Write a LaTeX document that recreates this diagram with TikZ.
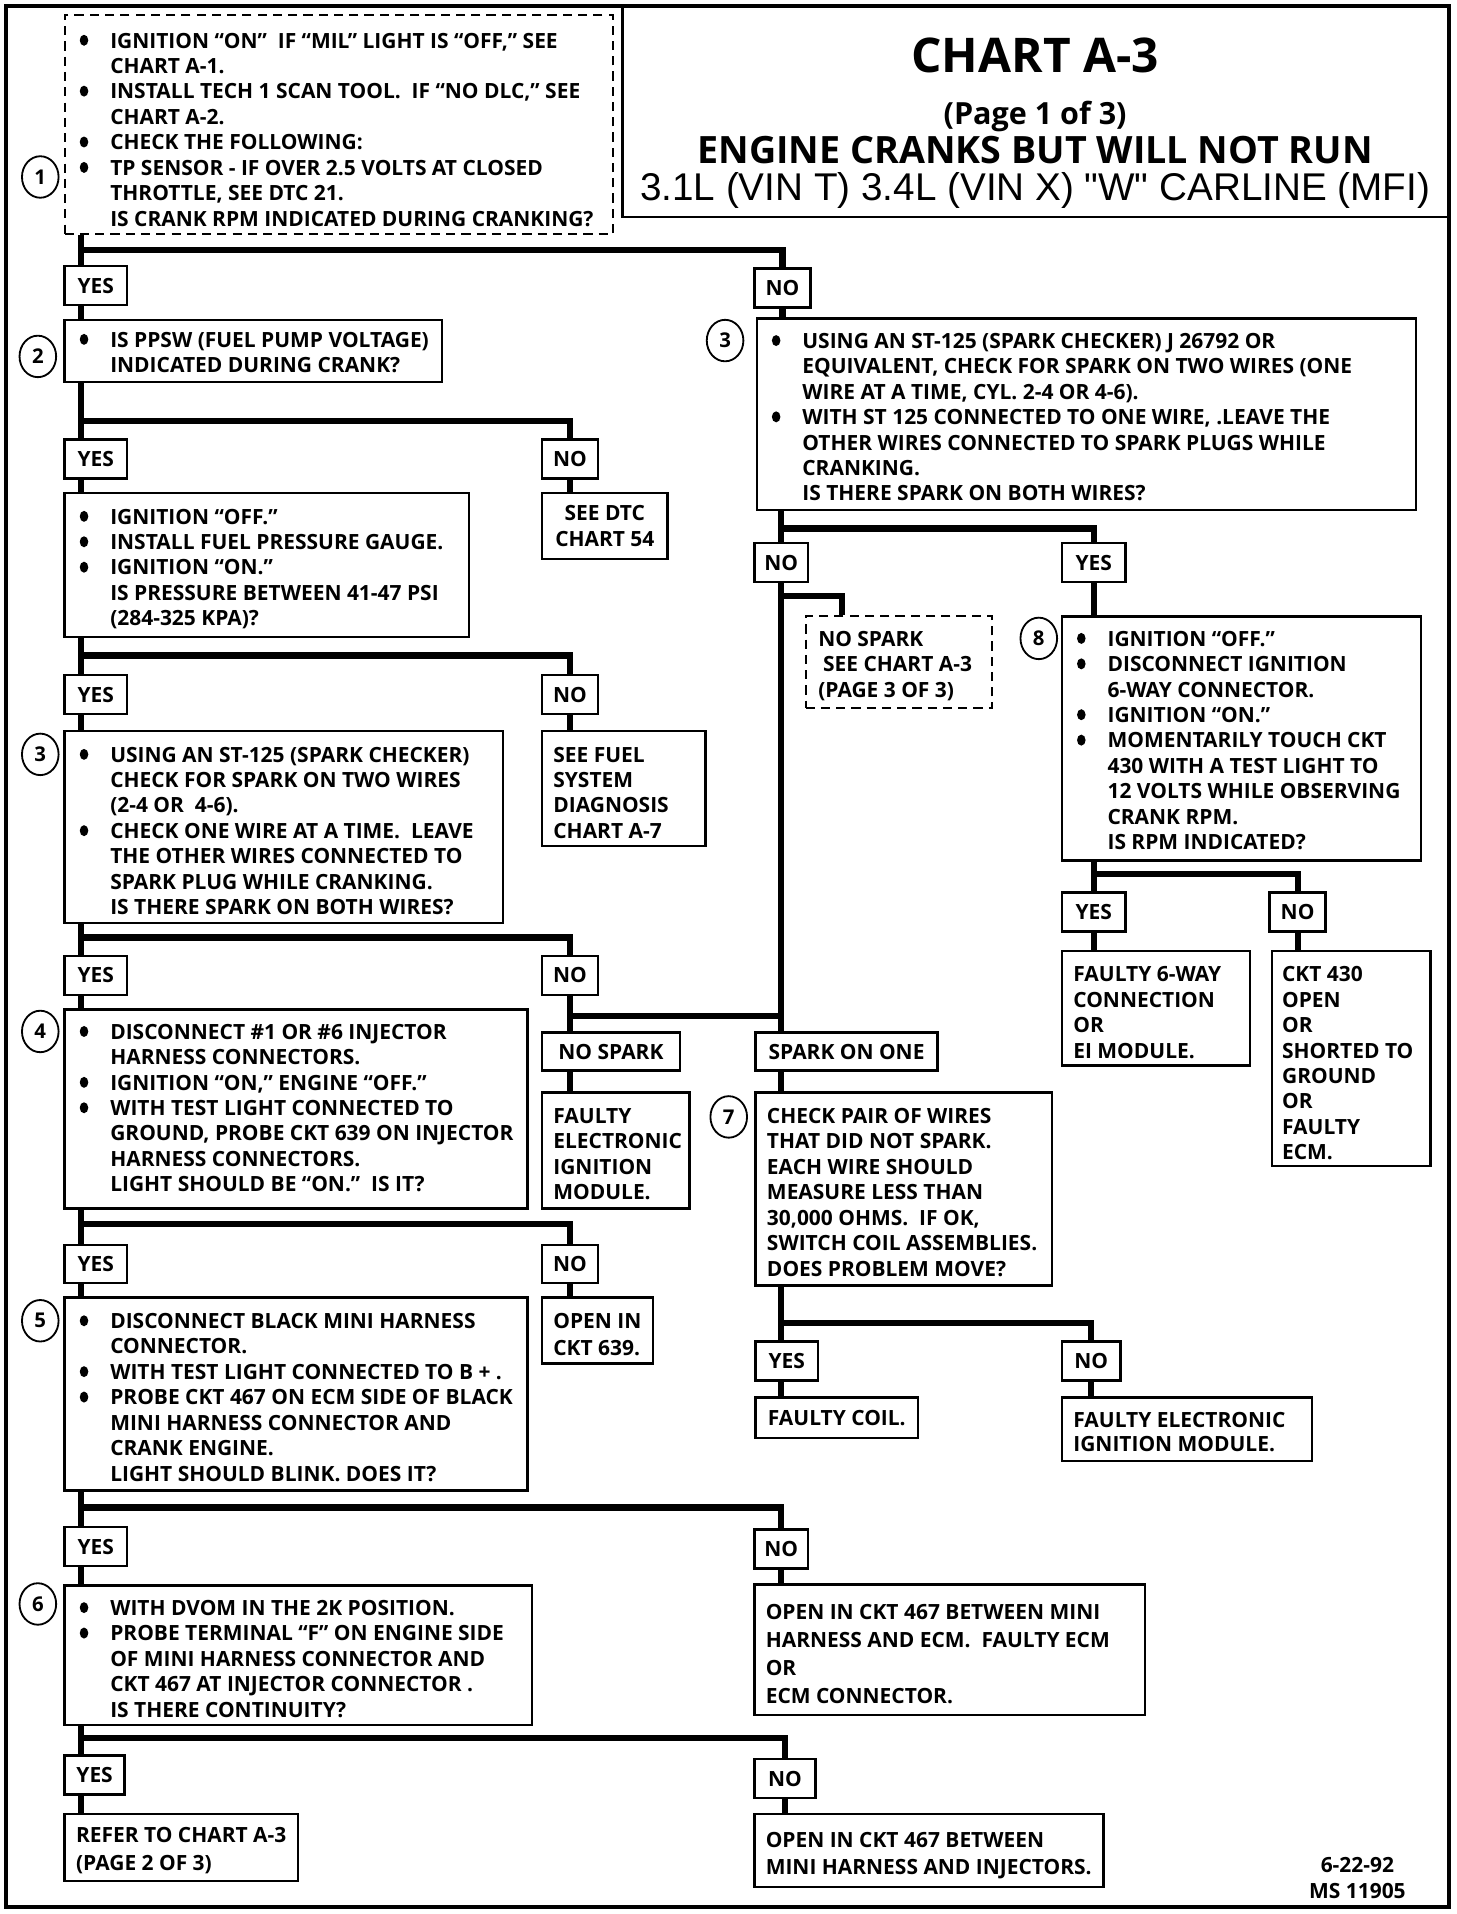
\documentclass[tikz,border=0pt]{standalone}
\usepackage{fontspec}
\setmainfont{Open Sans}
\newfontfamily\arialf{Liberation Sans}
\usetikzlibrary{fit,shapes.geometric}
\newcommand\bul{\makebox[15.6pt][l]{\hspace{0.6pt}\tikz[baseline={(0pt,-3.8pt)}]\fill (0pt,0pt) ellipse [x radius=2.1pt, y radius=2.7pt];}}
\newcommand\ind{\hspace*{15.6pt}}
\newcommand\st{\rule{0pt}{9pt}}
\newcommand\bodyf{\fontsize{10.3}{12.5}\selectfont\bfseries}
\begin{document}
\begin{tikzpicture}[x=0.6pt,y=-0.6pt,
 box/.style={draw, line width=1.2pt, inner sep=0pt},
 dbox/.style={draw, line width=1pt, dash pattern=on 4.5pt off 3pt, inner sep=0pt},
 every label/.style={font=\bodyf, inner sep=0pt, align=center},
 conn/.style={line width=3pt},
 frame/.style={line width=2pt},
 num/.style={ellipse, draw, line width=0.9pt, minimum width=18pt, minimum height=20.4pt, inner sep=0pt, fill=white, font=\fontsize{10}{10}\selectfont\bfseries},
 txt/.style={anchor=north west, inner sep=0pt, align=left, font=\bodyf},
 ttl/.style={anchor=base, inner sep=0pt, font=\bfseries},
]
\useasboundingbox (0,0) rectangle (1193,1568);
\draw[frame] (5,5) rectangle (1187,1562);

% title
\node[box, fit={(510,5)(1187,178)}] (title) {};
\node[ttl, font=\fontsize{23.5}{24}\selectfont\bfseries] (t1) at (848,59) {CHART A-3};
\node[ttl, font=\fontsize{15}{16}\selectfont\bfseries] (t2) at (848,102) {(Page 1 of 3)};
\node[ttl, font=\fontsize{18.5}{19}\selectfont\bfseries] (t3) at (848,134) {ENGINE CRANKS BUT WILL NOT RUN};
\node[ttl, font=\fontsize{19}{20}\arialf] (t4) at (848,164) {3.1L (VIN T) 3.4L (VIN X) "W" CARLINE (MFI)};

% boxes left column
\node[dbox, fit={(53,12)(502,192)}] (b1) {};
\node[box, fit={(53,218)(104,250)}, label=center:YES] (yes1) {};
\node[box, fit={(618,220)(664,252)}, label=center:NO] (no1) {};
\node[box, fit={(53,262)(362,313)}] (b2) {};
\node[box, fit={(53,360)(104,392)}, label=center:YES] (yes2) {};
\node[box, fit={(444,360)(490,392)}, label=center:NO] (no2) {};
\node[box, fit={(53,404)(384,522)}] (b2a) {};
\node[box, fit={(444,404)(547,458)}, label={center:{SEE DTC\\CHART 54}}] (dtc54) {};
\node[box, fit={(53,553)(104,585)}, label=center:YES] (yes3) {};
\node[box, fit={(444,553)(490,585)}, label=center:NO] (no3) {};
\node[box, fit={(53,599)(412,756)}] (b3) {};
\node[box, fit={(444,599)(578,693)}] (fuel) {};
\node[box, fit={(53,783)(104,815)}, label=center:YES] (yes4) {};
\node[box, fit={(444,783)(490,815)}, label=center:NO] (no4) {};
\node[box, fit={(53,827)(432,990)}] (b4) {};
\node[box, fit={(444,846)(557,877)}, label=center:{NO SPARK}] (nospark) {};
\node[box, fit={(444,895)(565,990)}] (fei) {};
\node[box, fit={(53,1020)(104,1051)}, label=center:YES] (yes5) {};
\node[box, fit={(444,1020)(490,1051)}, label=center:NO] (no5) {};
\node[box, fit={(53,1063)(432,1221)}] (b5) {};
\node[box, fit={(444,1063)(535,1117)}] (open639) {};
\node[box, fit={(53,1251)(104,1283)}, label=center:YES] (yes6) {};
\node[box, fit={(618,1253)(662,1285)}, label=center:NO] (no6) {};
\node[box, fit={(53,1299)(436,1413)}] (b6) {};
\node[box, fit={(618,1298)(938,1405)}] (open467a) {};
\node[box, fit={(53,1438)(102,1470)}, label=center:YES] (yes7) {};
\node[box, fit={(618,1441)(668,1473)}, label=center:NO] (no7) {};
\node[box, fit={(53,1486)(244,1541)}] (refer) {};
\node[box, fit={(618,1486)(904,1546)}] (open467b) {};

% right column
\node[box, fit={(620,261)(1160,418)}] (rb3) {};
\node[box, fit={(618,445)(662,477)}, label=center:NO] (rno) {};
\node[box, fit={(870,445)(922,477)}, label=center:YES] (ryes) {};
\node[dbox, fit={(660,505)(813,580)}] (page3) {};
\node[box, fit={(870,505)(1164,705)}] (b8) {};
\node[box, fit={(870,731)(922,763)}, label=center:YES] (yes8) {};
\node[box, fit={(1040,731)(1086,763)}, label=center:NO] (no8) {};
\node[box, fit={(870,779)(1024,873)}] (faulty6) {};
\node[box, fit={(1042,779)(1172,955)}] (ckt430) {};
\node[box, fit={(619,846)(768,877)}, label=center:{SPARK ON ONE}] (sparkone) {};
\node[box, fit={(619,895)(862,1053)}] (b7) {};
\node[box, fit={(619,1099)(670,1131)}, label=center:YES] (yes9) {};
\node[box, fit={(870,1099)(918,1131)}, label=center:NO] (no9) {};
\node[box, fit={(619,1145)(752,1178)}, label=center:{FAULTY COIL.}] (coil) {};
\node[box, fit={(870,1145)(1075,1197)}] (fei2) {};

% connectors
\coordinate (L) at (66,0);
\coordinate (P3) at (690,0);
\coordinate (j1) at (66,205);
\coordinate (j2) at (66,345);
\coordinate (j3) at (66,537);
\coordinate (j4) at (66,768);
\coordinate (j5) at (467,832);
\coordinate (j6) at (66,1003);
\coordinate (j7) at (66,1235);
\coordinate (j8) at (66,1424);
\coordinate (j9) at (640,433);
\coordinate (j10) at (640,488);
\coordinate (j11) at (896,716);
\coordinate (j12) at (640,1084);

\draw[conn] (b1.south -| L) -- (yes1.north -| L);
\draw[conn] (j1) -| (no1.north);
\draw[conn] (yes1.south -| L) -- (b2.north -| L);
\draw[conn] (b2.south -| L) -- (yes2.north -| L);
\draw[conn] (j2) -| (no2.north);
\draw[conn] (no2.south) -- (dtc54.north -| no2.south);
\draw[conn] (yes2.south -| L) -- (b2a.north -| L);
\draw[conn] (b2a.south -| L) -- (yes3.north -| L);
\draw[conn] (j3) -| (no3.north);
\draw[conn] (no3.south) -- (fuel.north -| no3.south);
\draw[conn] (yes3.south -| L) -- (b3.north -| L);
\draw[conn] (b3.south -| L) -- (yes4.north -| L);
\draw[conn] (j4) -| (no4.north);
\draw[conn] (no4.south) -- (nospark.north -| no4.south);
\draw[conn] (j5) -| (sparkone.north -| rno.south);
\draw[conn] (nospark.south -| no4.south) -- (fei.north -| no4.south);
\draw[conn] (yes4.south -| L) -- (b4.north -| L);
\draw[conn] (b4.south -| L) -- (yes5.north -| L);
\draw[conn] (j6) -| (no5.north);
\draw[conn] (no5.south) -- (open639.north -| no5.south);
\draw[conn] (yes5.south -| L) -- (b5.north -| L);
\draw[conn] (b5.south -| L) -- (yes6.north -| L);
\draw[conn] (j7) -| (no6.north);
\draw[conn] (no6.south) -- (open467a.north -| no6.south);
\draw[conn] (yes6.south -| L) -- (b6.north -| L);
\draw[conn] (b6.south -| L) -- (yes7.north -| L);
\draw[conn] (j8) -| (no7.north);
\draw[conn] (yes7.south -| L) -- (refer.north -| L);
\draw[conn] (no7.south) -- (open467b.north -| no7.south);

\draw[conn] (no1.south) -- (rb3.north -| no1.south);
\draw[conn] (rb3.south -| rno.north) -- (rno.north);
\draw[conn] (j9) -| (ryes.north);
\draw[conn] (rno.south) -- (sparkone.north -| rno.south);
\draw[conn] (j10) -| (page3.north -| P3);
\draw[conn] (ryes.south) -- (b8.north -| ryes.south);
\draw[conn] (b8.south -| yes8.north) -- (yes8.north);
\draw[conn] (j11) -| (no8.north);
\draw[conn] (yes8.south) -- (faulty6.north -| yes8.south);
\draw[conn] (no8.south) -- (ckt430.north -| no8.south);
\draw[conn] (sparkone.south -| rno.south) -- (b7.north -| rno.south);
\draw[conn] (b7.south -| rno.south) -- (yes9.north -| rno.south);
\draw[conn] (j12) -| (no9.north);
\draw[conn] (yes9.south -| rno.south) -- (coil.north -| rno.south);
\draw[conn] (no9.south) -- (fei2.north -| no9.south);

% circled step numbers
\node[num] (c1) at (33,145) {1};
\node[num] (c2) at (31,292) {2};
\node[num] (c3) at (33,618) {3};
\node[num] (c4) at (33,845) {4};
\node[num] (c5) at (33,1082) {5};
\node[num] (c6) at (31,1314) {6};
\node[num] (c3r) at (594,279) {3};
\node[num] (c8) at (851,523) {8};
\node[num] (c7) at (597,915) {7};

% texts
\node[txt] (b1t) at (64,24) {\st\bul IGNITION “ON”\ \ IF “MIL” LIGHT IS “OFF,” SEE\\
\ind CHART A-1.\\
\bul INSTALL TECH 1 SCAN TOOL.\ \ IF “NO DLC,” SEE\\
\ind CHART A-2.\\
\bul CHECK THE FOLLOWING:\\
\bul TP SENSOR - IF OVER 2.5 VOLTS AT CLOSED\\
\ind THROTTLE, SEE DTC 21.\\
\ind IS CRANK RPM INDICATED DURING CRANKING?};
\node[txt] (b2t) at (64,269) {\st\bul IS PPSW (FUEL PUMP VOLTAGE)\\
\ind INDICATED DURING CRANK?};
\node[txt] (b2at) at (64,414) {\st\bul IGNITION “OFF.”\\
\bul INSTALL FUEL PRESSURE GAUGE.\\
\bul IGNITION “ON.”\\
\ind IS PRESSURE BETWEEN 41-47 PSI\\
\ind (284-325 KPA)?};
\node[txt] (fuelt) at (453,609) {\st SEE FUEL\\SYSTEM\\DIAGNOSIS\\CHART A-7};
\node[txt] (b3t) at (64,609) {\st\bul USING AN ST-125 (SPARK CHECKER)\\
\ind CHECK FOR SPARK ON TWO WIRES\\
\ind (2-4 OR\ \ 4-6).\\
\bul CHECK ONE WIRE AT A TIME.\ \ LEAVE\\
\ind THE OTHER WIRES CONNECTED TO\\
\ind SPARK PLUG WHILE CRANKING.\\
\ind IS THERE SPARK ON BOTH WIRES?};
\node[txt] (b4t) at (64,836) {\st\bul DISCONNECT \#1 OR \#6 INJECTOR\\
\ind HARNESS CONNECTORS.\\
\bul IGNITION “ON,” ENGINE “OFF.”\\
\bul WITH TEST LIGHT CONNECTED TO\\
\ind GROUND, PROBE CKT 639 ON INJECTOR\\
\ind HARNESS CONNECTORS.\\
\ind LIGHT SHOULD BE “ON.”\ \ IS IT?};
\node[txt] (feit) at (453,905) {\st FAULTY\\ELECTRONIC\\IGNITION\\MODULE.};
\node[txt] (b5t) at (64,1073) {\st\bul DISCONNECT BLACK MINI HARNESS\\
\ind CONNECTOR.\\
\bul WITH TEST LIGHT CONNECTED TO B + .\\
\bul PROBE CKT 467 ON ECM SIDE OF BLACK\\
\ind MINI HARNESS CONNECTOR AND\\
\ind CRANK ENGINE.\\
\ind LIGHT SHOULD BLINK. DOES IT?};
\node[txt, font=\fontsize{10.3}{13.2}\selectfont\bfseries] (open639t) at (453,1073) {\st OPEN IN\\CKT 639.};
\node[txt] (b6t) at (64,1308) {\st\bul WITH DVOM IN THE 2K POSITION.\\
\bul PROBE TERMINAL “F” ON ENGINE SIDE\\
\ind OF MINI HARNESS CONNECTOR AND\\
\ind CKT 467 AT INJECTOR CONNECTOR .\\
\ind IS THERE CONTINUITY?};
\node[txt, font=\fontsize{10.3}{13.8}\selectfont\bfseries] (open467at) at (627,1311) {\st OPEN IN CKT 467 BETWEEN MINI\\
HARNESS AND ECM.\ \ FAULTY ECM\\OR\\ECM CONNECTOR.};
\node[txt, font=\fontsize{10.3}{13.8}\selectfont\bfseries] (refert) at (62,1494) {\st REFER TO CHART A-3\\(PAGE 2 OF 3)};
\node[txt, font=\fontsize{10.3}{13.2}\selectfont\bfseries] (open467bt) at (627,1498) {\st OPEN IN CKT 467 BETWEEN\\MINI HARNESS AND INJECTORS.};
\node[txt] (rb3t) at (631,270) {\st\bul USING AN ST-125 (SPARK CHECKER) J 26792 OR\\
\ind EQUIVALENT, CHECK FOR SPARK ON TWO WIRES (ONE\\
\ind WIRE AT A TIME, CYL. 2-4 OR 4-6).\\
\bul WITH ST 125 CONNECTED TO ONE WIRE, .LEAVE THE\\
\ind OTHER WIRES CONNECTED TO SPARK PLUGS WHILE\\
\ind CRANKING.\\
\ind IS THERE SPARK ON BOTH WIRES?};
\node[txt] (page3t) at (670,514) {\st NO SPARK\\\hspace*{2.4pt}SEE CHART A-3\\(PAGE 3 OF 3)};
\node[txt] (b8t) at (881,514) {\st\bul IGNITION “OFF.”\\
\bul DISCONNECT IGNITION\\
\ind 6-WAY CONNECTOR.\\
\bul IGNITION “ON.”\\
\bul MOMENTARILY TOUCH CKT\\
\ind 430 WITH A TEST LIGHT TO\\
\ind 12 VOLTS WHILE OBSERVING\\
\ind CRANK RPM.\\
\ind IS RPM INDICATED?};
\node[txt] (faulty6t) at (879,789) {\st FAULTY 6-WAY\\CONNECTION\\OR\\EI MODULE.};
\node[txt] (ckt430t) at (1050,789) {\st CKT 430\\OPEN\\OR\\SHORTED TO\\GROUND\\OR\\FAULTY\\ECM.};
\node[txt] (b7t) at (628,905) {\st CHECK PAIR OF WIRES\\
THAT DID NOT SPARK.\\
EACH WIRE SHOULD\\
MEASURE LESS THAN\\
30,000 OHMS.\ \ IF OK,\\
SWITCH COIL ASSEMBLIES.\\
DOES PROBLEM MOVE?};
\node[txt, font=\fontsize{10.3}{12}\selectfont\bfseries] (fei2t) at (879,1154) {\st FAULTY ELECTRONIC\\IGNITION MODULE.};
\node[txt, align=center, anchor=north] (date) at (1112,1519) {\st 6-22-92\\MS 11905};
\end{tikzpicture}
\end{document}
